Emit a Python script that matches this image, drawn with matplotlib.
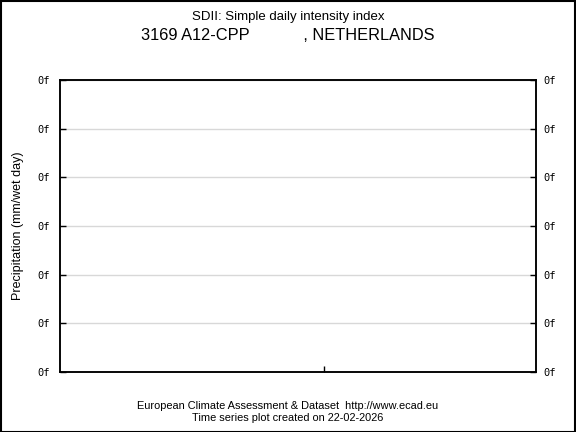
import matplotlib
matplotlib.use("Agg")
import matplotlib.pyplot as plt
from matplotlib.patches import Rectangle

# -------------------------------------------------------------
# Chart data (empty series; only axis ticks)
# -------------------------------------------------------------
title_line1 = "SDII: Simple daily intensity index"
title_line2 = "3169 A12-CPP            , NETHERLANDS"
ylabel = "Precipitation (mm/wet day)"
footer_line1 = "European Climate Assessment & Dataset  http://www.ecad.eu"
footer_line2 = "Time series plot created on 22-02-2026"

ytick_values = [0, 1, 2, 3, 4, 5, 6]
ytick_labels = ["0f", "0f", "0f", "0f", "0f", "0f", "0f"]
xtick_values = [0.555]
years = []
sdii = []

plt.rcParams['font.family'] = ['Liberation Sans', 'DejaVu Sans']

fig = plt.figure(figsize=(5.76, 4.32), dpi=100)
ax = fig.add_axes([60 / 576, 1 - 372 / 432, 476 / 576, 292 / 432])

ax.plot(years, sdii, color="black")
ax.set_xlim(0, 1)
ax.set_ylim(ytick_values[0], ytick_values[-1])

ax.set_yticks(ytick_values)
ax.set_yticklabels(ytick_labels, family="DejaVu Sans Mono", fontsize=7.5)
ax.set_xticks(xtick_values)
ax.set_xticklabels([])
ax.tick_params(axis="y", direction="in", length=4.5, width=1, pad=7)
ax.tick_params(axis="x", direction="in", length=4.5, width=1)
ax.grid(axis="y", color="#d8d8d8", lw=1)
for s in ax.spines.values():
    s.set_linewidth(1.1)

# right-hand labels
ax2 = ax.twinx()
ax2.set_ylim(ax.get_ylim())
ax2.set_yticks(ytick_values)
ax2.set_yticklabels(ytick_labels, family="DejaVu Sans Mono", fontsize=7.5)
ax2.tick_params(axis="y", direction="in", length=4.5, width=1, pad=5)
for s in ax2.spines.values():
    s.set_linewidth(1.1)

fig.text(18 / 576, 1 - 226 / 432, ylabel, rotation=90, ha="center", va="center", fontsize=9)

fig.text(0.5, 1 - 17 / 432, title_line1, ha="center", va="center", fontsize=9.5)
fig.text(0.5, 1 - 36 / 432, title_line2, ha="center", va="center", fontsize=11.8)
fig.text(0.5, 1 - 406 / 432, footer_line1, ha="center", va="center", fontsize=7.9)
fig.text(0.5, 1 - 418 / 432, footer_line2, ha="center", va="center", fontsize=7.9)

# border around the whole figure
fig.patches.append(Rectangle((0.001, 0.001), 0.997, 0.997, transform=fig.transFigure,
                             fill=False, edgecolor="black", lw=1.5))

fig.savefig("out.png", dpi=100)
